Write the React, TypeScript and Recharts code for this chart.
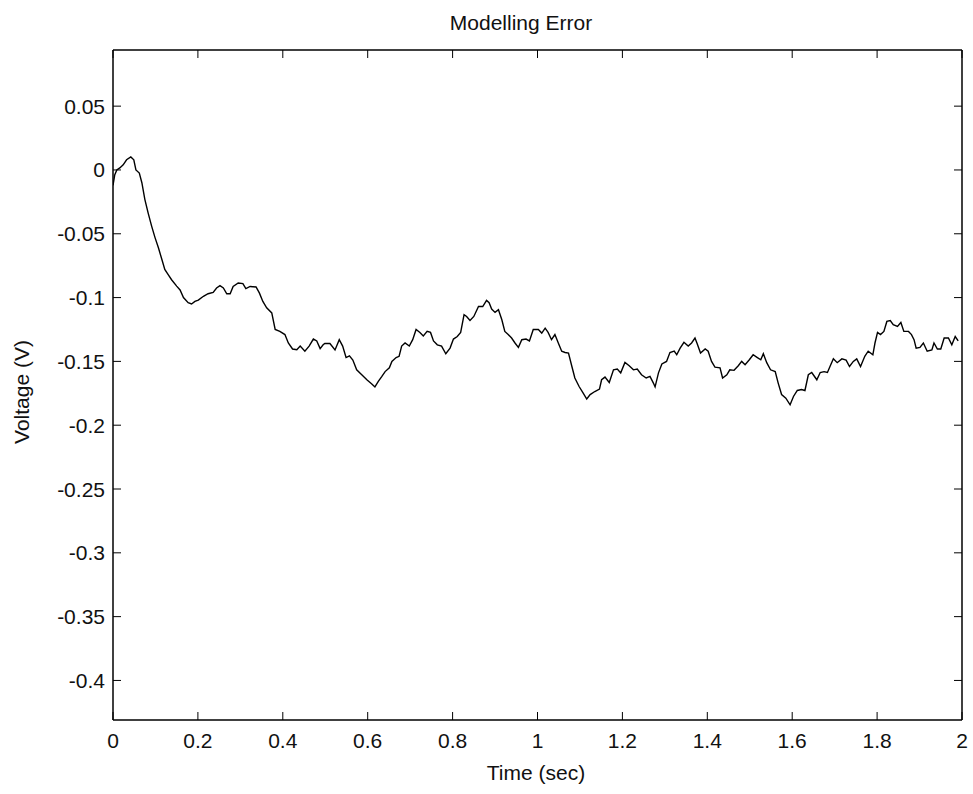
import React from 'react';
import { LineChart, Line, XAxis, YAxis } from 'recharts';

const times: number[] = [
  0.000, 0.004, 0.009, 0.016, 0.024, 0.032, 0.042, 0.049, 0.054, 0.062, 0.068, 0.075, 0.083, 0.091, 0.099,
  0.107, 0.115, 0.122, 0.130, 0.138, 0.150, 0.158, 0.166, 0.177, 0.185, 0.193, 0.201, 0.213, 0.224, 0.236,
  0.244, 0.252, 0.260, 0.268, 0.276, 0.283, 0.295, 0.306, 0.313, 0.323, 0.337, 0.345, 0.353, 0.362, 0.374,
  0.382, 0.393, 0.405, 0.413, 0.423, 0.433, 0.441, 0.452, 0.462, 0.472, 0.480, 0.488, 0.495, 0.499, 0.511,
  0.523, 0.533, 0.541, 0.549, 0.557, 0.565, 0.574, 0.586, 0.598, 0.609, 0.617, 0.625, 0.633, 0.641, 0.651,
  0.657, 0.667, 0.674, 0.680, 0.688, 0.698, 0.706, 0.714, 0.723, 0.731, 0.740, 0.748, 0.755, 0.764, 0.774,
  0.784, 0.794, 0.802, 0.811, 0.819, 0.827, 0.833, 0.841, 0.850, 0.861, 0.871, 0.880, 0.886, 0.892, 0.900,
  0.908, 0.916, 0.923, 0.931, 0.939, 0.947, 0.955, 0.963, 0.973, 0.981, 0.990, 1.002, 1.010, 1.018, 1.025,
  1.033, 1.041, 1.049, 1.057, 1.065, 1.073, 1.081, 1.088, 1.098, 1.108, 1.116, 1.124, 1.135, 1.146, 1.151,
  1.159, 1.169, 1.179, 1.188, 1.196, 1.206, 1.216, 1.226, 1.235, 1.245, 1.256, 1.265, 1.273, 1.277, 1.285,
  1.293, 1.304, 1.312, 1.322, 1.328, 1.336, 1.345, 1.355, 1.363, 1.371, 1.376, 1.384, 1.395, 1.402, 1.410,
  1.418, 1.430, 1.436, 1.446, 1.453, 1.463, 1.473, 1.481, 1.489, 1.499, 1.508, 1.518, 1.526, 1.532, 1.540,
  1.549, 1.560, 1.567, 1.575, 1.585, 1.595, 1.603, 1.612, 1.622, 1.630, 1.638, 1.646, 1.658, 1.666, 1.675,
  1.683, 1.689, 1.697, 1.706, 1.717, 1.727, 1.735, 1.744, 1.752, 1.761, 1.771, 1.779, 1.790, 1.795, 1.801,
  1.808, 1.816, 1.823, 1.831, 1.838, 1.848, 1.856, 1.863, 1.874, 1.881, 1.887, 1.892, 1.901, 1.909, 1.918,
  1.929, 1.934, 1.942, 1.950, 1.958, 1.968, 1.976, 1.984, 1.991,
];

const voltages: number[] = [
  -0.012, -0.004, 0.000, 0.0016, 0.004, 0.008, 0.0102, 0.008, 0.000, -0.0024, -0.010, -0.023, -0.034, -0.044, -0.053,
  -0.061, -0.070, -0.078, -0.082, -0.086, -0.091, -0.094, -0.100, -0.104, -0.105, -0.103, -0.102, -0.099, -0.097, -0.096,
  -0.0925, -0.0907, -0.0925, -0.097, -0.097, -0.0913, -0.0886, -0.089, -0.093, -0.0913, -0.0917, -0.0965, -0.103, -0.108, -0.112,
  -0.125, -0.1265, -0.129, -0.1356, -0.1403, -0.1409, -0.138, -0.142, -0.138, -0.1325, -0.134, -0.140, -0.137, -0.136, -0.136,
  -0.141, -0.133, -0.138, -0.147, -0.1456, -0.149, -0.1566, -0.1605, -0.1644, -0.1675, -0.170, -0.1657, -0.162, -0.158, -0.155,
  -0.150, -0.147, -0.146, -0.138, -0.1356, -0.138, -0.133, -0.125, -0.1273, -0.130, -0.1265, -0.1273, -0.134, -0.137, -0.138,
  -0.144, -0.1396, -0.1325, -0.1305, -0.1273, -0.1134, -0.1148, -0.118, -0.1148, -0.107, -0.107, -0.1022, -0.104, -0.109, -0.1116,
  -0.1095, -0.1174, -0.1265, -0.129, -0.1317, -0.1356, -0.139, -0.133, -0.1325, -0.134, -0.125, -0.125, -0.1278, -0.124, -0.1273,
  -0.133, -0.129, -0.1356, -0.142, -0.143, -0.1435, -0.154, -0.163, -0.1697, -0.175, -0.1795, -0.176, -0.1736, -0.1717, -0.1644,
  -0.1623, -0.1665, -0.1566, -0.156, -0.159, -0.1508, -0.1534, -0.1566, -0.156, -0.1605, -0.163, -0.1618, -0.167, -0.170, -0.159,
  -0.152, -0.150, -0.143, -0.142, -0.1448, -0.1396, -0.135, -0.138, -0.1356, -0.1317, -0.136, -0.1435, -0.1403, -0.142, -0.150,
  -0.1545, -0.155, -0.163, -0.1605, -0.1566, -0.157, -0.1534, -0.150, -0.1526, -0.1487, -0.1448, -0.147, -0.1487, -0.144, -0.151,
  -0.1566, -0.158, -0.167, -0.176, -0.1788, -0.184, -0.1775, -0.1728, -0.172, -0.1728, -0.1605, -0.1587, -0.1644, -0.1587, -0.158,
  -0.1587, -0.154, -0.148, -0.151, -0.148, -0.149, -0.154, -0.150, -0.148, -0.154, -0.146, -0.142, -0.1448, -0.1356, -0.1273,
  -0.129, -0.1265, -0.1187, -0.118, -0.1213, -0.1226, -0.1195, -0.1265, -0.1265, -0.129, -0.133, -0.1396, -0.139, -0.1356, -0.142,
  -0.141, -0.1356, -0.1403, -0.1403, -0.1317, -0.1317, -0.137, -0.1305, -0.134,
];

const xTicks: number[] = [0, 0.2, 0.4, 0.6, 0.8, 1, 1.2, 1.4, 1.6, 1.8, 2];
const yTicks: number[] = [-0.4, -0.35, -0.3, -0.25, -0.2, -0.15, -0.1, -0.05, 0, 0.05];
const xDomain: [number, number] = [0, 2];
const yDomain: [number, number] = [-0.431, 0.094];

const titleText = 'Modelling Error';
const xLabelText = 'Time (sec)';
const yLabelText = 'Voltage (V)';

const data = times.map((t, i) => ({ t, v: voltages[i] }));

const FONT = '"Liberation Sans", Arial, Helvetica, sans-serif';
const FS = 21;
const TICK = 8;

const fmt = (v: number) => String(Number(v.toFixed(3)));

const BottomTick = (props: any) => {
  const { x, y, payload } = props;
  return (
    <g>
      <line x1={x} x2={x} y1={y} y2={y - TICK} stroke="#000" strokeWidth={1} />
      <text x={x} y={y + 28} textAnchor="middle" fontFamily={FONT} fontSize={FS} fill="#111">
        {fmt(payload.value)}
      </text>
    </g>
  );
};

const TopTick = (props: any) => {
  const { x, y } = props;
  return <line x1={x} x2={x} y1={y} y2={y + TICK} stroke="#000" strokeWidth={1} />;
};

const LeftTick = (props: any) => {
  const { x, y, payload } = props;
  return (
    <g>
      <line x1={x} x2={x + TICK} y1={y} y2={y} stroke="#000" strokeWidth={1} />
      <text x={x - 8} y={y + 7.5} textAnchor="end" fontFamily={FONT} fontSize={FS} fill="#111">
        {fmt(payload.value)}
      </text>
    </g>
  );
};

const RightTick = (props: any) => {
  const { x, y } = props;
  return <line x1={x} x2={x - TICK} y1={y} y2={y} stroke="#000" strokeWidth={1} />;
};

export default function App() {
  return (
    <div style={{ position: 'absolute', left: 0, top: 0, width: 973, height: 794, background: '#fff' }}>
      <LineChart width={973} height={794} data={data} margin={{ top: 0, right: 0, bottom: 0, left: 0 }}>
        <XAxis
          xAxisId="bottom"
          dataKey="t"
          type="number"
          domain={xDomain}
          ticks={xTicks}
          allowDataOverflow
          orientation="bottom"
          height={74}
          tickSize={0}
          tickMargin={0}
          tick={<BottomTick />}
          axisLine={{ stroke: '#000', strokeWidth: 1.5 }}
          tickLine={false}
          interval={0}
          label={() => (
            <text x={536} y={780} textAnchor="middle" fontFamily={FONT} fontSize={FS} fill="#111">
              {xLabelText}
            </text>
          )}
        />
        <XAxis
          xAxisId="top"
          dataKey="t"
          type="number"
          domain={xDomain}
          ticks={xTicks}
          allowDataOverflow
          orientation="top"
          height={50}
          tickSize={0}
          tickMargin={0}
          tick={<TopTick />}
          axisLine={{ stroke: '#000', strokeWidth: 1.5 }}
          tickLine={false}
          interval={0}
          label={() => (
            <text x={521} y={30} textAnchor="middle" fontFamily={FONT} fontSize={FS} fill="#111">
              {titleText}
            </text>
          )}
        />
        <YAxis
          yAxisId="left"
          type="number"
          domain={yDomain}
          ticks={yTicks}
          allowDataOverflow
          orientation="left"
          width={113}
          tickSize={0}
          tickMargin={0}
          tick={<LeftTick />}
          axisLine={{ stroke: '#000', strokeWidth: 1.5 }}
          tickLine={false}
          interval={0}
          label={() => (
            <text
              x={29}
              y={392}
              textAnchor="middle"
              fontFamily={FONT}
              fontSize={FS}
              fill="#111"
              transform="rotate(-90 29 392)"
            >
              {yLabelText}
            </text>
          )}
        />
        <YAxis
          yAxisId="right"
          type="number"
          domain={yDomain}
          ticks={yTicks}
          allowDataOverflow
          orientation="right"
          width={11}
          tickSize={0}
          tickMargin={0}
          tick={<RightTick />}
          axisLine={{ stroke: '#000', strokeWidth: 1.5 }}
          tickLine={false}
          interval={0}
        />
        <Line
          xAxisId="bottom"
          yAxisId="left"
          dataKey="v"
          type="linear"
          stroke="#000"
          strokeWidth={1.4}
          dot={false}
          isAnimationActive={false}
        />
      </LineChart>
    </div>
  );
}
